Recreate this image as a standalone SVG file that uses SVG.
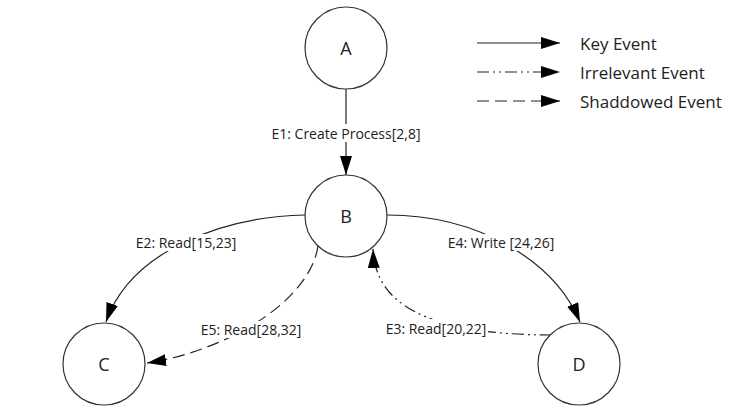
<svg xmlns="http://www.w3.org/2000/svg" width="736" height="416" viewBox="0 0 736 416">
<style>
.node{fill:#fff;stroke:#333;stroke-width:1.2}
.nl{font-family:"Open Sans","DejaVu Sans",sans-serif;font-size:18px;fill:#222;text-anchor:middle;dominant-baseline:central}
.lbl{font-family:"Open Sans","DejaVu Sans",sans-serif;font-size:14px;fill:#222;text-anchor:middle;dominant-baseline:central}
.leg{font-family:"Open Sans","DejaVu Sans",sans-serif;font-size:17px;fill:#222;dominant-baseline:central}
.e{fill:none;stroke:#222;stroke-width:1.2}
.dash{stroke-dasharray:12 6}
.dd{stroke-dasharray:12 4 2 4 2 4}
.bg{fill:#fff}
</style>
<defs>
<marker id="ah" markerUnits="userSpaceOnUse" markerWidth="19" markerHeight="12" refX="19" refY="6" orient="auto">
<path d="M0,0 L19,6 L0,12 z" fill="#000"/>
</marker>
</defs>
<g id="connectors">
<path id="e1" class="e" d="M346,89 L346,175" marker-end="url(#ah)"/>
<path id="e2" class="e" d="M305,215 C220,217 130,252 106,322" marker-end="url(#ah)"/>
<path id="e5" class="e dash" d="M318,246 C310,300 230,350 147,363" marker-end="url(#ah)"/>
<path id="e4" class="e" d="M387,215 C480,215 555,262 580,322" marker-end="url(#ah)"/>
<path id="e3" class="e dd" d="M552,335 C420,335 375,300 373,249" marker-end="url(#ah)"/>
</g>
<g id="labels">
<rect class="bg" x="268" y="124" width="156" height="18"/>
<text class="lbl" x="346" y="133">E1: Create Process[2,8]</text>
<rect class="bg" x="134" y="234" width="104" height="17"/>
<text class="lbl" x="186" y="242">E2: Read[15,23]</text>
<rect class="bg" x="198" y="321" width="106" height="17"/>
<text class="lbl" x="251" y="329">E5: Read[28,32]</text>
<rect class="bg" x="444" y="234" width="114" height="17"/>
<text class="lbl" x="501" y="242">E4: Write [24,26]</text>
<rect class="bg" x="384" y="319" width="104" height="15"/>
<text class="lbl" x="436" y="328">E3: Read[20,22]</text>
</g>
<g id="A"><circle class="node" cx="346" cy="48" r="41"/><text class="nl" x="346" y="48">A</text></g>
<g id="B"><circle class="node" cx="346" cy="216" r="41"/><text class="nl" x="346" y="216">B</text></g>
<g id="C"><circle class="node" cx="104" cy="364" r="41"/><text class="nl" x="104" y="364">C</text></g>
<g id="D"><circle class="node" cx="579" cy="364" r="41"/><text class="nl" x="579" y="364">D</text></g>
<g id="legend">
<path class="e" d="M477,43 L560,43" marker-end="url(#ah)"/>
<path class="e dd" d="M477,72 L560,72" marker-end="url(#ah)"/>
<path class="e dash" d="M477,101 L560,101" marker-end="url(#ah)"/>
<text class="leg" x="580" y="43">Key Event</text>
<text class="leg" x="580" y="72">Irrelevant Event</text>
<text class="leg" x="580" y="101">Shaddowed Event</text>
</g>
</svg>
